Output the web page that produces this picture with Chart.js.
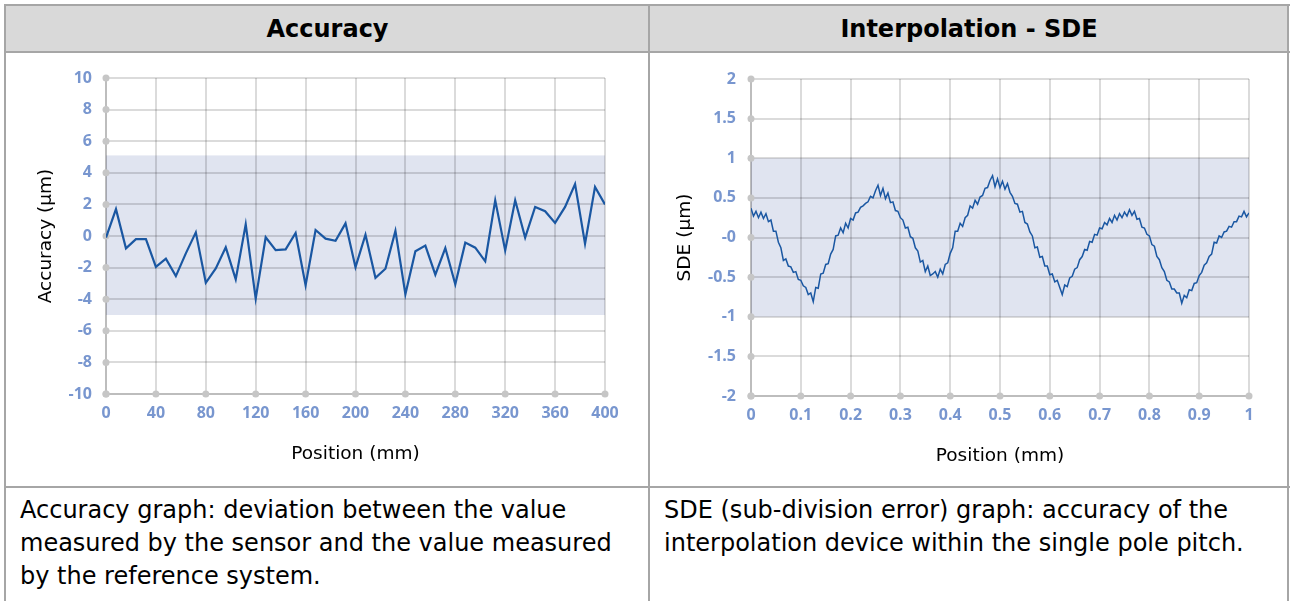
<!DOCTYPE html>
<html>
<head>
<meta charset="utf-8">
<script src="https://cdn.jsdelivr.net/npm/chart.js@4.4.1/dist/chart.umd.min.js"></script>
<style>
  body { margin: 0; background: #fff; width: 1290px; height: 601px; overflow: hidden; position: relative; font-family: "DejaVu Sans", Verdana, sans-serif; }
  .rule { position: absolute; background: #a6a6a6; }
  .head { position: absolute; top: 6px; height: 46px; background: #d9d9d9; font-weight: bold; font-size: 24px; display: flex; align-items: center; justify-content: center; color: #000; }
  .note { position: absolute; top: 494px; font-size: 24px; line-height: 33px; color: #000; white-space: nowrap; }
  canvas { position: absolute; }
</style>
</head>
<body>
<div class="head" style="left:6px;width:643px;">Accuracy</div>
<div class="head" style="left:650px;width:638px;">Interpolation - SDE</div>

<canvas id="accChart" width="641" height="432" style="left:7px;top:54px;"></canvas>
<canvas id="sdeChart" width="636" height="432" style="left:651px;top:54px;"></canvas>

<div class="note" style="left:20px;">Accuracy graph: deviation between the value<br>measured by the sensor and the value measured<br>by the reference system.</div>
<div class="note" style="left:664px;">SDE (sub-division error) graph: accuracy of the<br>interpolation device within the single pole pitch.</div>

<div class="rule" style="left:4px;top:4px;width:1286px;height:2px;"></div>
<div class="rule" style="left:4px;top:51px;width:1286px;height:2px;"></div>
<div class="rule" style="left:4px;top:486px;width:1286px;height:2px;"></div>
<div class="rule" style="left:4px;top:4px;width:2px;height:597px;"></div>
<div class="rule" style="left:648px;top:4px;width:2px;height:597px;"></div>
<div class="rule" style="left:1287px;top:4px;width:2px;height:597px;"></div>

<script>
// accuracy: one reading every 8 mm
const accPositions = [0, 8, 16, 24, 32, 40, 48, 56, 64, 72, 80, 88, 96, 104, 112, 120, 128, 136, 144, 152,
    160, 168, 176, 184, 192, 200, 208, 216, 224, 232, 240, 248, 256, 264, 272, 280, 288, 296, 304, 312,
    320, 328, 336, 344, 352, 360, 368, 376, 384, 392, 400];
const accValues = [-0.1, 1.7, -0.78, -0.2, -0.2, -1.95, -1.44, -2.54, -1.1, 0.23, -2.96, -2.05, -0.72, -2.75, 0.74, -3.96, -0.08, -0.89, -0.85, 0.19,
    -3.11, 0.38, -0.17, -0.3, 0.8, -1.97, 0.08, -2.65, -2.07, 0.32, -3.68, -0.97, -0.61, -2.45, -0.76, -3.06, -0.42, -0.74, -1.6, 2.26,
    -0.91, 2.26, -0.1, 1.84, 1.57, 0.83, 1.84, 3.28, -0.49, 3.11, 1.99];
const accBand = [-5, 5.1];
const accXTicks = [0, 40, 80, 120, 160, 200, 240, 280, 320, 360, 400];
const accYTicks = [-10, -8, -6, -4, -2, 0, 2, 4, 6, 8, 10];
const accYLabels = ['-10', '-8', '-6', '-4', '-2', '0', '2', '4', '6', '8', '10'];

// SDE: one reading every 0.005 mm over a single pole pitch
const sdeStep = 0.005;
const sdeValues = [
    0.37, 0.27, 0.33, 0.25, 0.32, 0.24, 0.30, 0.20, 0.22, 0.08,
    0.08, -0.06, -0.13, -0.29, -0.27, -0.36, -0.37, -0.44, -0.43, -0.53,
    -0.54, -0.61, -0.63, -0.72, -0.70, -0.81, -0.63, -0.64, -0.46, -0.45,
    -0.34, -0.33, -0.21, -0.15, 0.02, 0.03, 0.12, 0.06, 0.18, 0.12,
    0.24, 0.22, 0.31, 0.32, 0.38, 0.40, 0.43, 0.45, 0.52, 0.50,
    0.59, 0.66, 0.53, 0.62, 0.49, 0.56, 0.44, 0.45, 0.34, 0.33,
    0.25, 0.22, 0.12, 0.13, 0.01, -0.01, -0.13, -0.17, -0.31, -0.29,
    -0.43, -0.36, -0.48, -0.46, -0.43, -0.50, -0.40, -0.46, -0.34, -0.32,
    -0.20, -0.13, 0.08, 0.08, 0.18, 0.14, 0.25, 0.28, 0.40, 0.37,
    0.47, 0.42, 0.51, 0.53, 0.62, 0.63, 0.72, 0.78, 0.64, 0.74,
    0.63, 0.71, 0.61, 0.68, 0.57, 0.52, 0.43, 0.42, 0.32, 0.33,
    0.19, 0.17, 0.07, 0.02, -0.13, -0.12, -0.25, -0.24, -0.36, -0.36,
    -0.47, -0.46, -0.56, -0.54, -0.63, -0.72, -0.60, -0.62, -0.51, -0.49,
    -0.40, -0.38, -0.28, -0.24, -0.15, -0.16, -0.05, -0.06, 0.04, 0.03,
    0.12, 0.11, 0.19, 0.16, 0.24, 0.19, 0.28, 0.22, 0.30, 0.25,
    0.32, 0.27, 0.35, 0.28, 0.33, 0.23, 0.24, 0.13, 0.12, 0.04,
    0.02, -0.09, -0.11, -0.24, -0.28, -0.38, -0.43, -0.54, -0.56, -0.65,
    -0.65, -0.70, -0.70, -0.83, -0.73, -0.76, -0.66, -0.67, -0.58, -0.57,
    -0.48, -0.44, -0.35, -0.32, -0.24, -0.21, -0.06, -0.07, 0.02, 0.00,
    0.07, 0.08, 0.14, 0.13, 0.20, 0.20, 0.27, 0.26, 0.33, 0.26,
    0.31
];
const sdeBand = [-1, 1];
const sdeXTicks = [0, 0.1, 0.2, 0.3, 0.4, 0.5, 0.6, 0.7, 0.8, 0.9, 1];
const sdeXLabels = ['0', '0.1', '0.2', '0.3', '0.4', '0.5', '0.6', '0.7', '0.8', '0.9', '1'];
const sdeYTicks = [-2, -1.5, -1, -0.5, 0, 0.5, 1, 1.5, 2];
const sdeYLabels = ['-2', '-1.5', '-1', '-0.5', '-0', '0.5', '1', '1.5', '2'];

const lineColor = '#1a57a2';
const tickColor = '#7896cf';
const gridColor = 'rgba(0,0,0,0.14)';

// light band drawn under the grid
const bandPlugin = {
    id: 'band',
    beforeDraw(chart, args, opts) {
        const { ctx, chartArea, scales } = chart;
        const top = scales.y.getPixelForValue(opts.to);
        const bottom = scales.y.getPixelForValue(opts.from);
        ctx.save();
        ctx.fillStyle = '#e0e4f0';
        ctx.fillRect(chartArea.left, top, chartArea.right - chartArea.left, bottom - top);
        ctx.restore();
    }
};

// grey dots where ticks meet the axes
const dotPlugin = {
    id: 'axisDots',
    beforeDatasetsDraw(chart) {
        const { ctx, chartArea, scales } = chart;
        ctx.save();
        ctx.fillStyle = '#c6c6c6';
        const dot = (x, y) => { ctx.beginPath(); ctx.arc(x, y, 3.5, 0, Math.PI * 2); ctx.fill(); };
        scales.y.ticks.forEach(t => dot(chartArea.left, scales.y.getPixelForValue(t.value)));
        scales.x.ticks.forEach(t => dot(scales.x.getPixelForValue(t.value), chartArea.bottom));
        ctx.restore();
    }
};

function makeChart(id, s) {
    const tickFont = { family: '"Open Sans", sans-serif', size: 16, weight: 'bold' };
    const titleFont = { family: '"DejaVu Sans", Verdana, sans-serif', size: 18.5 };
    return new Chart(document.getElementById(id), {
        type: 'line',
        data: {
            datasets: [{
                data: s.points,
                borderColor: lineColor,
                borderWidth: s.lineWidth,
                pointRadius: 0,
                tension: 0,
                fill: false
            }]
        },
        options: {
            responsive: false,
            animation: false,
            events: [],
            layout: { padding: { top: s.padTop, right: s.padRight, left: 0, bottom: 0 } },
            plugins: {
                legend: { display: false },
                tooltip: { enabled: false },
                band: { from: s.band[0], to: s.band[1] }
            },
            scales: {
                x: {
                    type: 'linear',
                    min: s.xTicks[0],
                    max: s.xTicks[s.xTicks.length - 1],
                    afterBuildTicks: scale => { scale.ticks = s.xTicks.map(v => ({ value: v })); },
                    afterFit: scale => { scale.height = s.xHeight; },
                    grid: { color: gridColor, lineWidth: 2, drawTicks: false },
                    border: { color: gridColor, width: 2 },
                    ticks: {
                        autoSkip: false, maxRotation: 0, padding: 10,
                        color: tickColor, font: tickFont,
                        callback: (v, i) => s.xLabels[i]
                    },
                    title: {
                        display: true, text: 'Position (mm)', color: '#000',
                        font: titleFont, padding: { top: 0, bottom: s.xTitlePad }
                    }
                },
                y: {
                    min: s.yTicks[0],
                    max: s.yTicks[s.yTicks.length - 1],
                    afterBuildTicks: scale => { scale.ticks = s.yTicks.map(v => ({ value: v })); },
                    afterFit: scale => { scale.width = s.yWidth; },
                    grid: { color: gridColor, lineWidth: 2, drawTicks: false },
                    border: { color: gridColor, width: 2 },
                    ticks: {
                        padding: s.yTickPad,
                        color: tickColor, font: tickFont,
                        callback: (v, i) => s.yLabels[i]
                    },
                    title: {
                        display: true, text: s.yTitle, color: '#000',
                        font: titleFont, padding: { top: s.yTitlePad, bottom: 0 }
                    }
                }
            }
        },
        plugins: [bandPlugin, dotPlugin]
    });
}

makeChart('accChart', {
    points: accPositions.map((p, i) => ({ x: p, y: accValues[i] })),
    lineWidth: 2.2,
    band: accBand,
    xTicks: accXTicks, xLabels: accXTicks.map(String),
    yTicks: accYTicks, yLabels: accYLabels,
    yTitle: 'Accuracy (μm)',
    padTop: 24, padRight: 43, yWidth: 99, xHeight: 92,
    yTickPad: 14, yTitlePad: 28, xTitlePad: 21
});

makeChart('sdeChart', {
    points: sdeValues.map((v, i) => ({ x: i * sdeStep, y: v })),
    lineWidth: 1.5,
    band: sdeBand,
    xTicks: sdeXTicks, xLabels: sdeXLabels,
    yTicks: sdeYTicks, yLabels: sdeYLabels,
    yTitle: 'SDE (μm)',
    padTop: 25, padRight: 38, yWidth: 100, xHeight: 90,
    yTickPad: 15, yTitlePad: 23, xTitlePad: 19
});
</script>
</body>
</html>
